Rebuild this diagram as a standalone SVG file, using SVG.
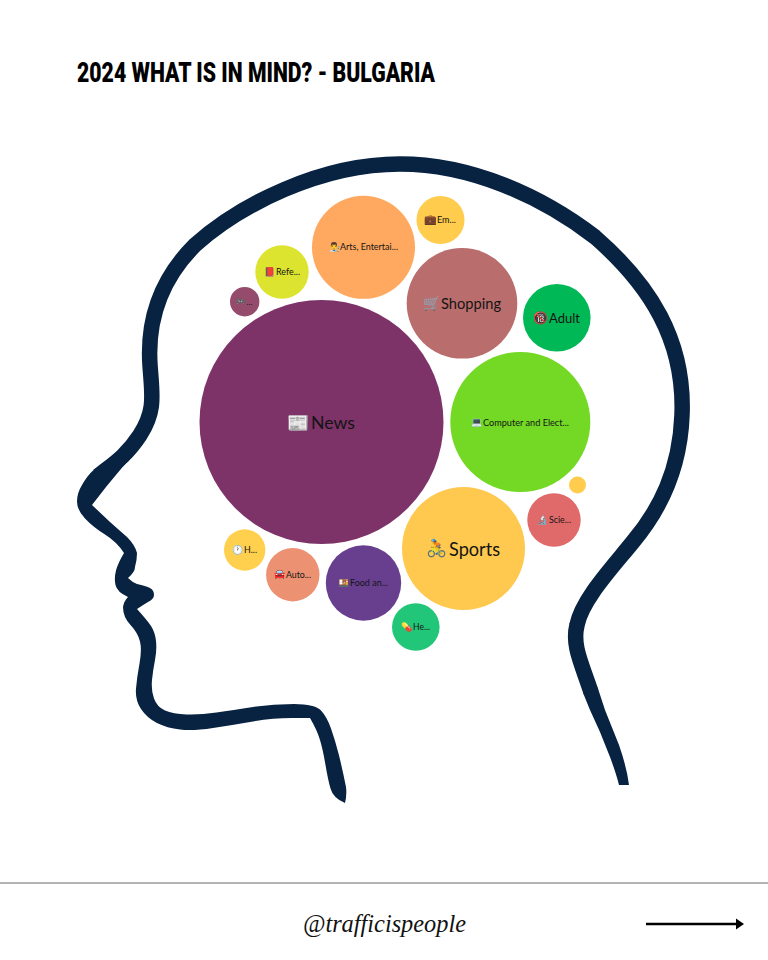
<svg xmlns="http://www.w3.org/2000/svg" width="768" height="960" viewBox="0 0 768 960">
<style>
.l{font-family:Lato,"Noto Sans",sans-serif;fill:#141414;dominant-baseline:central}
.e{font-family:"Noto Color Emoji","DejaVu Sans",sans-serif;dominant-baseline:central}
.s{font-size:9.5px}
</style>
<rect width="768" height="960" fill="#fff"/>
<text x="77" y="82" font-family="Roboto,'Liberation Sans',sans-serif" font-weight="900" font-size="28" textLength="358" lengthAdjust="spacingAndGlyphs" fill="#000">2024 WHAT IS IN MIND? - BULGARIA</text>
<g id="head">
<path fill="none" stroke="#082242" stroke-width="15.5" d="M591 692 C581 662 572 645 577 625 C582 600 610 570 632 543 C660 510 680 470 682 415 C685 340 650 285 595 237 C540 195 470 164 400 164 C320 164 240 205 195 245 C160 280 147 320 150 365 C152 395 156 410 140 435 C125 458 110 466 98 476"/>
<path fill="#082242" d="M629 785 Q627 768 619 745 L605 710 L598.300 689.500 L591 675 L583 680 L583.700 694.500 L590 710 L600 732 L610 757 Q616 773 619 785 Z"/>
<path fill="#082242" d="M93 470.500 Q87 476 82 485 Q77 493 77 501.500 Q77 510 85 518.500 Q93 527 105 534.500 Q117 542 124 553 Q118 563 116 570.500 Q114 578 115.500 585 Q117 592 128 597 Q124 601 123 607 Q123 617 130.500 625 Q138 633 140 641.500 Q142 650 139.500 663.500 Q137 677 136 688.500 Q135 700 141 709 Q147 718 157 723 Q167 728 180 729.500 Q193 731 213 728 Q233 725 253 721.500 Q273 718 291.500 718 L310 718 Q317 730 320 740 Q323 750 325.500 765 Q328 780 330.500 788.500 Q333 798 345 803 Q347 795 346 787 Q342 767 338.500 753.500 Q335 740 331 728.500 Q327 717 321 710.500 Q315 704 294 704 Q273 704 253 707 Q233 710 216.500 712.500 Q200 715 186.500 714.500 Q173 714 165 710.500 Q157 707 154 698.500 Q151 690 152 680 Q153 670 155 660 Q157 650 156 641 Q155 632 151 626 Q147 620 137 609 Q143 605 148 602 Q154 599 154 595 Q154 590 150 588 Q146 586 137 584 Q132 582 128 578 Q135 572 135 567 Q137 560 137 553 Q135 545 127 537 Q119 530 110 522 L92 505 L106 487 Q120 470 132 456 L104 470 Z"/>
</g>
<g id="news"><circle cx="321.5" cy="422" r="122" fill="#7D3368"/><text class="e" x="287" y="422" font-size="18">📰</text><text class="l" x="311" y="422" font-size="18" textLength="44" lengthAdjust="spacingAndGlyphs">News</text></g>
<g id="arts"><circle cx="363.5" cy="247.3" r="51.5" fill="#FFA85F"/><text class="e" x="329" y="246.500" font-size="9">👨‍🎨</text><text class="l s" x="340" y="246.500" textLength="58" lengthAdjust="spacingAndGlyphs">Arts, Entertai...</text></g>
<g id="employment"><circle cx="440.5" cy="220" r="24" fill="#FFCC4D"/><text class="e" x="424.5" y="219.500" font-size="10">💼</text><text class="l s" x="437" y="219.500" textLength="19" lengthAdjust="spacingAndGlyphs">Em...</text></g>
<g id="reference"><circle cx="282" cy="272" r="26.7" fill="#DCE430"/><text class="e" x="264.500" y="271.500" font-size="9">📕</text><text class="l s" x="276" y="271.500" textLength="24" lengthAdjust="spacingAndGlyphs">Refe...</text></g>
<g id="games"><circle cx="244.7" cy="301.7" r="14.7" fill="#954B6B"/><text class="e" x="236.500" y="301" font-size="7.500">🎮</text><text class="l" x="246.500" y="302" font-size="7" textLength="6" lengthAdjust="spacingAndGlyphs">...</text></g>
<g id="shopping"><circle cx="462" cy="303.3" r="55.3" fill="#BA6D6D"/><text class="e" x="423" y="303" font-size="14">🛒</text><text class="l" x="441" y="303" font-size="15.5" textLength="60" lengthAdjust="spacingAndGlyphs">Shopping</text></g>
<g id="adult"><circle cx="556.8" cy="317.8" r="33.8" fill="#00B956"/><text class="e" x="533" y="318" font-size="12">🔞</text><text class="l" x="549" y="318" font-size="13" textLength="31" lengthAdjust="spacingAndGlyphs">Adult</text></g>
<g id="computer"><circle cx="520.3" cy="422" r="70" fill="#73D924"/><text class="e" x="471" y="422" font-size="9">💻</text><text class="l s" x="483" y="422" textLength="86" lengthAdjust="spacingAndGlyphs">Computer and Elect...</text></g>
<circle id="tiny" cx="577.5" cy="485" r="8.5" fill="#FFCC4D"/>
<g id="science"><circle cx="554" cy="520" r="26.7" fill="#E06969"/><text class="e" x="537" y="519.500" font-size="9">🔬</text><text class="l s" x="549" y="519.500" textLength="22" lengthAdjust="spacingAndGlyphs">Scie...</text></g>
<g id="sports"><circle cx="463.5" cy="548.5" r="61.5" fill="#FFC84F"/><text class="e" x="426" y="548" font-size="17">🚴</text><text class="l" x="449" y="548" font-size="19" textLength="51" lengthAdjust="spacingAndGlyphs">Sports</text></g>
<g id="hobbies"><circle cx="244.7" cy="550" r="20.7" fill="#FFD04D"/><text class="e" x="232" y="549.500" font-size="9">🕐</text><text class="l s" x="244" y="549.500" textLength="13" lengthAdjust="spacingAndGlyphs">H...</text></g>
<g id="autos"><circle cx="292.8" cy="574.7" r="26.7" fill="#EC9172"/><text class="e" x="274.500" y="574" font-size="9">🚘</text><text class="l s" x="286" y="574" textLength="25" lengthAdjust="spacingAndGlyphs">Auto...</text></g>
<g id="food"><circle cx="363.5" cy="583" r="37.7" fill="#683F8F"/><text class="e" x="338" y="582.500" font-size="9">🍱</text><text class="l s" x="350" y="582.500" textLength="38" lengthAdjust="spacingAndGlyphs">Food an...</text></g>
<g id="health"><circle cx="415.8" cy="627" r="23.8" fill="#22C678"/><text class="e" x="401" y="626.500" font-size="9">💊</text><text class="l s" x="413" y="626.500" textLength="17" lengthAdjust="spacingAndGlyphs">He...</text></g>
<line x1="0" y1="883" x2="768" y2="883" stroke="#666" stroke-width="1"/>
<text x="303" y="932" font-family="'Liberation Serif',serif" font-style="italic" font-size="26" textLength="163" lengthAdjust="spacingAndGlyphs" fill="#111">@trafficispeople</text>
<g id="connectors"><line x1="646" y1="924" x2="738" y2="924" stroke="#000" stroke-width="2.5"/><path d="M736 918.500 L744 924 L736 929.500 Z" fill="#000"/></g>
</svg>
